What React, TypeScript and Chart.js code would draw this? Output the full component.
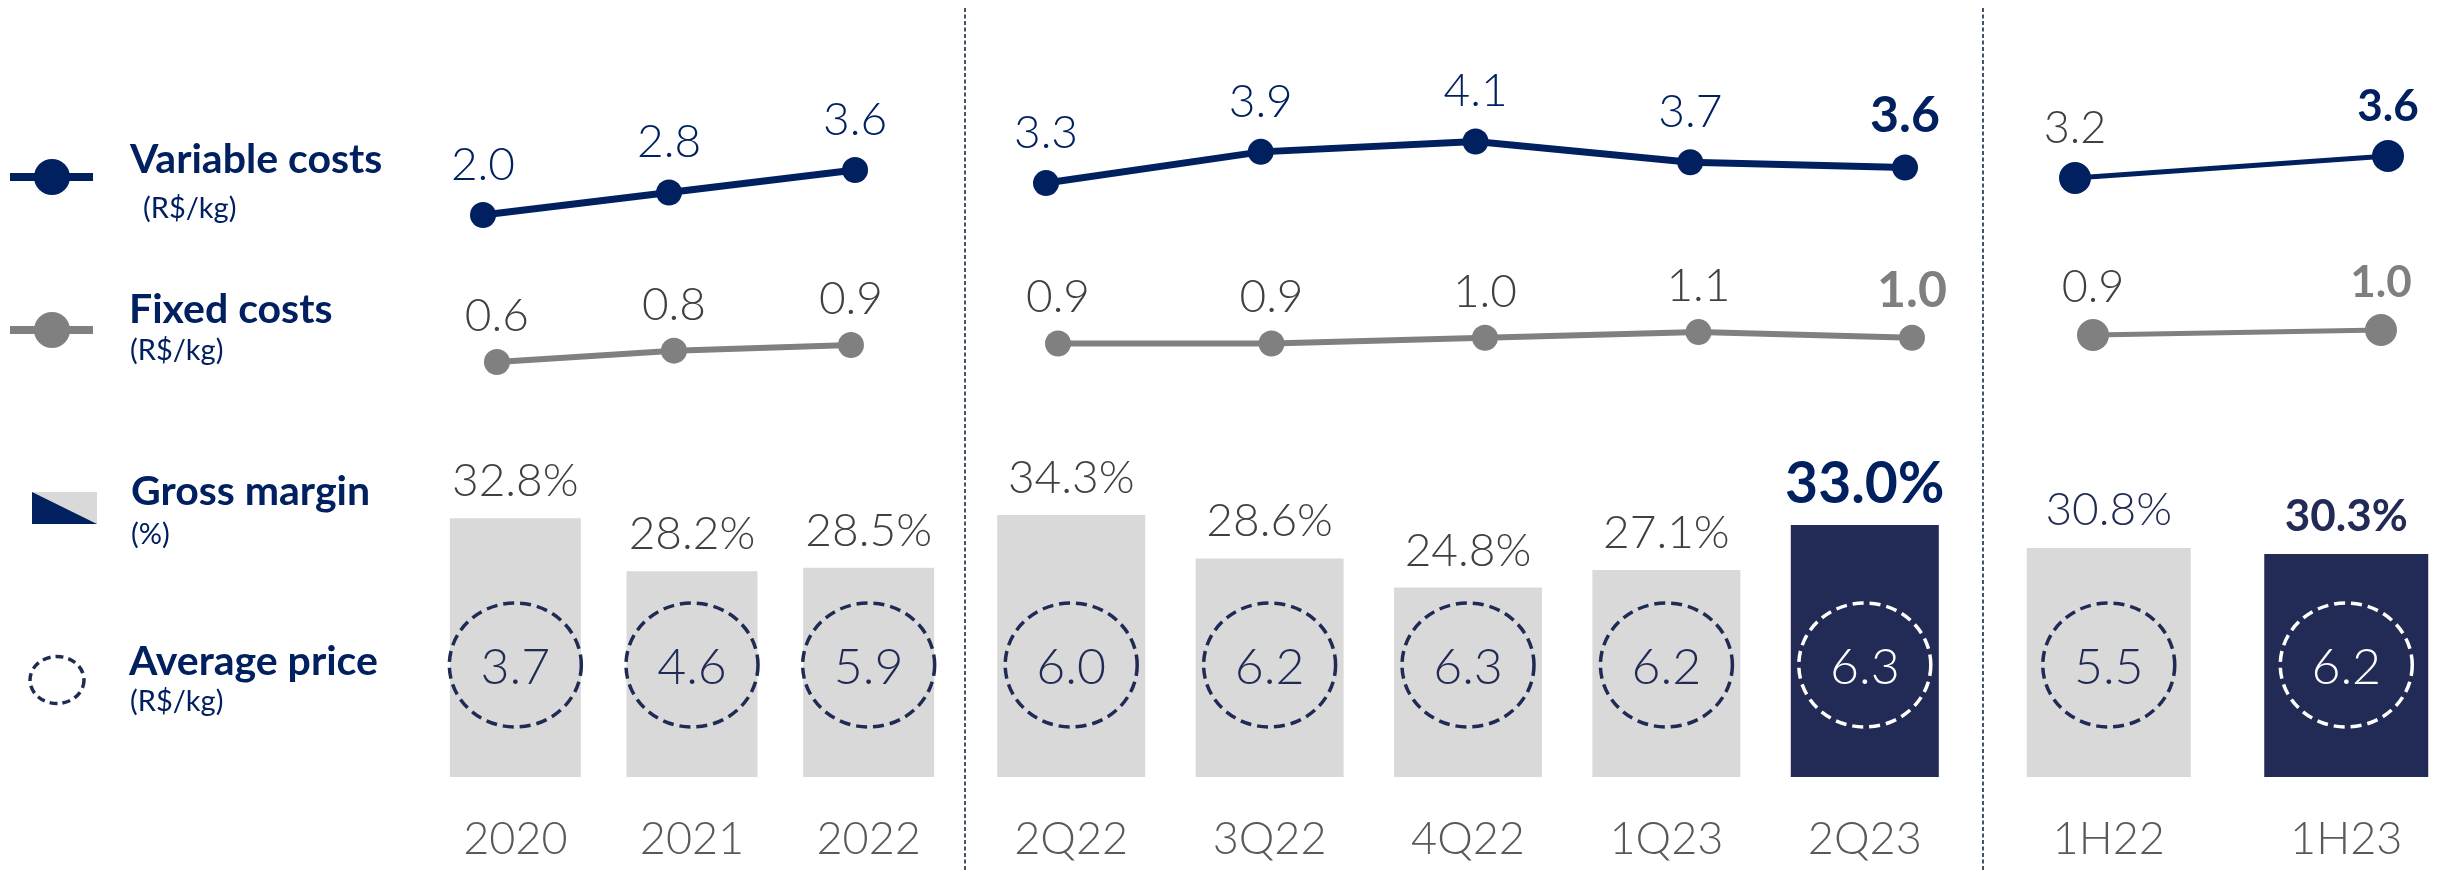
import React, { useEffect, useRef } from "react";
import { Chart, registerables } from "chart.js";

Chart.register(...registerables);

// ---------- Data ----------
const annualLabels = ["2020", "2021", "2022"];
const annualVariable = [2.0, 2.8, 3.6];
const annualFixed = [0.6, 0.8, 0.9];
const annualMargin = [32.8, 28.2, 28.5];
const annualPrice = [3.7, 4.6, 5.9];

const quarterLabels = ["2Q22", "3Q22", "4Q22", "1Q23", "2Q23"];
const quarterVariable = [3.3, 3.9, 4.1, 3.7, 3.6];
const quarterFixed = [0.9, 0.9, 1.0, 1.1, 1.0];
const quarterMargin = [34.3, 28.6, 24.8, 27.1, 33.0];
const quarterPrice = [6.0, 6.2, 6.3, 6.2, 6.3];

const halfLabels = ["1H22", "1H23"];
const halfVariable = [3.2, 3.6];
const halfFixed = [0.9, 1.0];
const halfMargin = [30.8, 30.3];
const halfPrice = [5.5, 6.2];

// ---------- Styles ----------
const NAVY_LINE = "#002060";
const NAVY_BAR = "#222A56";
const NAVY_TEXT = "#1F2A55";
const GRAY_LINE = "#808080";
const GRAY_BAR = "#D9D9D9";
const DARK_TEXT = "#404040";
const TICK_TEXT = "#595959";
const FONT = "Lato";
const PAGE_H = 872;
const AREA_BOTTOM_PAD = 95; // chart area ends 95px above the page bottom

type LabelStyle = {
  size: number;
  boldSize: number;
  color: string;
  boldColor: string;
  gap: number;
  highlight: number;
  suffix: string;
};

type Panel = {
  labels: string[];
  variable: number[];
  fixed: number[];
  margin: number[];
  price: number[];
  left: number;
  width: number;
  highlight: number;
  barPercentage: number;
  yMargin: [number, number];
  yVariable: [number, number];
  yFixed: [number, number];
  xVariable: [number, number];
  xFixed: [number, number];
  variableWidth: number;
  fixedWidth: number;
  pointRadius: number;
  variableLabel: LabelStyle;
  fixedLabel: LabelStyle;
  marginLabel: LabelStyle;
};

const panels: Panel[] = [
  {
    labels: annualLabels,
    variable: annualVariable,
    fixed: annualFixed,
    margin: annualMargin,
    price: annualPrice,
    left: 427,
    width: 530,
    highlight: -1,
    barPercentage: 0.7415,
    yMargin: [10.3, 77.87],
    yVariable: [-18.0, 9.65],
    yFixed: [-6.72, 6.985],
    xVariable: [-0.301, 2.548],
    xFixed: [-0.395, 2.599],
    variableWidth: 7,
    fixedWidth: 6,
    pointRadius: 13,
    variableLabel: { size: 46, boldSize: 50, color: NAVY_LINE, boldColor: NAVY_LINE, gap: 35, highlight: -1, suffix: "" },
    fixedLabel: { size: 46, boldSize: 50, color: DARK_TEXT, boldColor: "#7F7F7F", gap: 31, highlight: -1, suffix: "" },
    marginLabel: { size: 46, boldSize: 57, color: DARK_TEXT, boldColor: NAVY_LINE, gap: 22, highlight: -1, suffix: "%" },
  },
  {
    labels: quarterLabels,
    variable: quarterVariable,
    fixed: quarterFixed,
    margin: quarterMargin,
    price: quarterPrice,
    left: 972,
    width: 992,
    highlight: 4,
    barPercentage: 0.746,
    yMargin: [0, 101.7],
    yVariable: [-8.12, 6.82],
    yFixed: [-6.705, 6.926],
    xVariable: [-0.3446, 4.2747],
    xFixed: [-0.4028, 4.2436],
    variableWidth: 7,
    fixedWidth: 6,
    pointRadius: 13,
    variableLabel: { size: 46, boldSize: 50, color: NAVY_LINE, boldColor: NAVY_LINE, gap: 35, highlight: 4, suffix: "" },
    fixedLabel: { size: 46, boldSize: 50, color: DARK_TEXT, boldColor: "#7F7F7F", gap: 31, highlight: 4, suffix: "" },
    marginLabel: { size: 46, boldSize: 57, color: DARK_TEXT, boldColor: NAVY_LINE, gap: 22, highlight: 4, suffix: "%" },
  },
  {
    labels: halfLabels,
    variable: halfVariable,
    fixed: halfFixed,
    margin: halfMargin,
    price: halfPrice,
    left: 1990,
    width: 475,
    highlight: 1,
    barPercentage: 0.6905,
    yMargin: [11.72, 76.47],
    yVariable: [-7.69, 6.436],
    yFixed: [-7.94, 7.6],
    xVariable: [-0.2716, 1.246],
    xFixed: [-0.3576, 1.2917],
    variableWidth: 5,
    fixedWidth: 5,
    pointRadius: 16,
    variableLabel: { size: 45, boldSize: 44, color: DARK_TEXT, boldColor: NAVY_LINE, gap: 35, highlight: 1, suffix: "" },
    fixedLabel: { size: 45, boldSize: 44, color: DARK_TEXT, boldColor: "#7F7F7F", gap: 33, highlight: 1, suffix: "" },
    marginLabel: { size: 46, boldSize: 44, color: NAVY_TEXT, boldColor: NAVY_BAR, gap: 23, highlight: 1, suffix: "%" },
  },
];

// ---------- Plugins ----------
const valueLabelPlugin = {
  id: "valueLabels",
  afterDatasetsDraw(chart: any) {
    const ctx = chart.ctx;
    chart.data.datasets.forEach((ds: any, di: number) => {
      const style: LabelStyle | undefined = ds.valueLabels;
      if (!style) return;
      const meta = chart.getDatasetMeta(di);
      meta.data.forEach((el: any, i: number) => {
        const raw = ds.data[i];
        const v = typeof raw === "number" ? raw : raw.y;
        const bold = i === style.highlight;
        ctx.save();
        ctx.font = `${bold ? 700 : 300} ${bold ? style.boldSize : style.size}px ${FONT}`;
        ctx.fillStyle = bold ? style.boldColor : style.color;
        ctx.textAlign = "center";
        ctx.textBaseline = "alphabetic";
        ctx.fillText(v.toFixed(1) + style.suffix, el.x, el.y - style.gap);
        ctx.restore();
      });
    });
  },
};

const pricePlugin = {
  id: "priceBadges",
  afterDatasetsDraw(chart: any) {
    const ctx = chart.ctx;
    chart.data.datasets.forEach((ds: any, di: number) => {
      if (!ds.prices) return;
      const meta = chart.getDatasetMeta(di);
      const cy = chart.chartArea.bottom - 112;
      meta.data.forEach((el: any, i: number) => {
        const hi = i === ds.highlightIndex;
        const col = hi ? "#FFFFFF" : NAVY_TEXT;
        ctx.save();
        ctx.beginPath();
        ctx.ellipse(el.x, cy, 66, 62, 0, 0, Math.PI * 2);
        ctx.setLineDash([11, 6]);
        ctx.lineWidth = 3.5;
        ctx.strokeStyle = col;
        ctx.stroke();
        ctx.setLineDash([]);
        ctx.font = `300 50px ${FONT}`;
        ctx.fillStyle = col;
        ctx.textAlign = "center";
        ctx.textBaseline = "alphabetic";
        ctx.fillText(ds.prices[i].toFixed(1), el.x, cy + 19);
        ctx.restore();
      });
    });
  },
};

// category tick labels of the (hidden) category axis, placed under each category
const categoryTickPlugin = {
  id: "categoryTicks",
  afterDraw(chart: any) {
    const ctx = chart.ctx;
    const scale = chart.scales.x;
    const y = chart.chartArea.bottom + 77;
    ctx.save();
    ctx.font = `300 45px ${FONT}`;
    ctx.fillStyle = TICK_TEXT;
    ctx.textAlign = "center";
    ctx.textBaseline = "alphabetic";
    scale.ticks.forEach((t: any, i: number) => {
      ctx.fillText(scale.getLabelForValue(t.value), scale.getPixelForTick(i), y);
    });
    ctx.restore();
  },
};

function buildConfig(p: Panel): any {
  const barColors = p.labels.map((_, i) => (i === p.highlight ? NAVY_BAR : GRAY_BAR));
  return {
    type: "line",
    data: {
      labels: p.labels,
      datasets: [
        {
          type: "line",
          data: p.variable.map((v, i) => ({ x: i, y: v })),
          xAxisID: "xVariable",
          yAxisID: "yVariable",
          borderColor: NAVY_LINE,
          borderWidth: p.variableWidth,
          pointRadius: p.pointRadius,
          pointHoverRadius: p.pointRadius,
          pointBackgroundColor: NAVY_LINE,
          pointBorderWidth: 0,
          fill: false,
          tension: 0,
          clip: false,
          order: 1,
          valueLabels: p.variableLabel,
        },
        {
          type: "line",
          data: p.fixed.map((v, i) => ({ x: i, y: v })),
          xAxisID: "xFixed",
          yAxisID: "yFixed",
          borderColor: GRAY_LINE,
          borderWidth: p.fixedWidth,
          pointRadius: p.pointRadius,
          pointHoverRadius: p.pointRadius,
          pointBackgroundColor: GRAY_LINE,
          pointBorderWidth: 0,
          fill: false,
          tension: 0,
          clip: false,
          order: 2,
          valueLabels: p.fixedLabel,
        },
        {
          type: "bar",
          data: p.margin,
          prices: p.price,
          highlightIndex: p.highlight,
          backgroundColor: barColors,
          borderWidth: 0,
          grouped: false,
          barPercentage: p.barPercentage,
          categoryPercentage: 1,
          xAxisID: "x",
          yAxisID: "yMargin",
          order: 3,
          valueLabels: p.marginLabel,
        },
      ],
    },
    options: {
      responsive: true,
      maintainAspectRatio: false,
      animation: false,
      events: [],
      layout: { autoPadding: false, padding: { top: 0, bottom: AREA_BOTTOM_PAD, left: 0, right: 0 } },
      plugins: { legend: { display: false }, tooltip: { enabled: false } },
      scales: {
        x: {
          type: "category",
          axis: "x",
          display: false,
          offset: true,
          grid: { display: false, offset: true },
        },
        xVariable: { type: "linear", axis: "x", display: false, offset: false, bounds: "data", min: p.xVariable[0], max: p.xVariable[1] },
        xFixed: { type: "linear", axis: "x", display: false, offset: false, bounds: "data", min: p.xFixed[0], max: p.xFixed[1] },
        yMargin: { type: "linear", axis: "y", display: false, bounds: "data", min: p.yMargin[0], max: p.yMargin[1] },
        yVariable: { type: "linear", axis: "y", display: false, bounds: "data", min: p.yVariable[0], max: p.yVariable[1] },
        yFixed: { type: "linear", axis: "y", display: false, bounds: "data", min: p.yFixed[0], max: p.yFixed[1] },
      },
    },
    plugins: [valueLabelPlugin, pricePlugin, categoryTickPlugin],
  };
}

function PanelChart({ panel }: { panel: Panel }) {
  const ref = useRef<HTMLCanvasElement>(null);
  useEffect(() => {
    if (!ref.current) return;
    const chart = new Chart(ref.current, buildConfig(panel));
    return () => chart.destroy();
  }, [panel]);
  return (
    <div style={{ position: "absolute", left: panel.left, top: 0, width: panel.width, height: PAGE_H }}>
      <canvas ref={ref} />
    </div>
  );
}

function Legend() {
  const title = { fontFamily: FONT, fontWeight: 700, fontSize: 41, fill: NAVY_LINE } as any;
  const sub = { fontFamily: FONT, fontWeight: 400, fontSize: 29, fill: NAVY_LINE } as any;
  return (
    <svg width={2445} height={872} style={{ position: "absolute", left: 0, top: 0, pointerEvents: "none" }}>
      <line x1={965} y1={8} x2={965} y2={872} stroke="#44546A" strokeWidth={2} strokeDasharray="4 2.5" />
      <line x1={1983} y1={8} x2={1983} y2={872} stroke="#44546A" strokeWidth={2} strokeDasharray="4 2.5" />

      <line x1={10} y1={177} x2={93} y2={177} stroke={NAVY_LINE} strokeWidth={8} />
      <circle cx={52} cy={177} r={18} fill={NAVY_LINE} />
      <text x={130} y={173} {...title}>Variable costs</text>
      <text x={143} y={218} {...sub}>(R$/kg)</text>

      <line x1={10} y1={330} x2={93} y2={330} stroke={GRAY_LINE} strokeWidth={8} />
      <circle cx={52} cy={330} r={18} fill={GRAY_LINE} />
      <text x={129} y={323} {...title}>Fixed costs</text>
      <text x={130} y={360} {...sub}>(R$/kg)</text>

      <rect x={32} y={492} width={65} height={32} fill={GRAY_BAR} />
      <polygon points="32,492 97,524 32,524" fill={NAVY_LINE} />
      <text x={131} y={505} {...title}>Gross margin</text>
      <text x={131} y={544} {...sub}>(%)</text>

      <ellipse cx={57} cy={680} rx={27} ry={23.5} fill="none" stroke={NAVY_TEXT} strokeWidth={3.5} strokeDasharray="8 5" />
      <text x={129} y={675} {...title}>Average price</text>
      <text x={130} y={711} {...sub}>(R$/kg)</text>
    </svg>
  );
}

export default function App() {
  return (
    <div
      style={{
        position: "absolute",
        left: 0,
        top: 0,
        width: 2445,
        height: PAGE_H,
        overflow: "hidden",
        background: "#FFFFFF",
      }}
    >
      {panels.map((p, i) => (
        <PanelChart key={i} panel={p} />
      ))}
      <Legend />
    </div>
  );
}
